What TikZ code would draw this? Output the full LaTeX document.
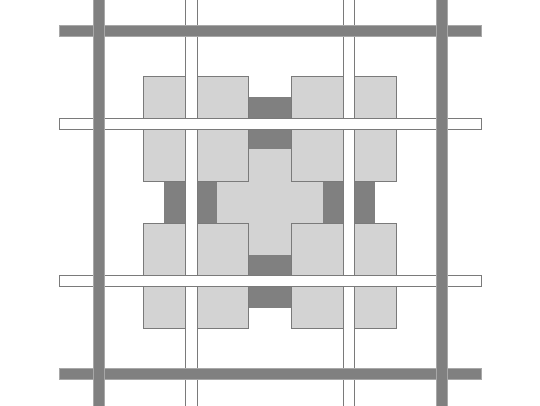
\documentclass[tikz,border=0pt]{standalone}
\usetikzlibrary{backgrounds}
\definecolor{lsq}{HTML}{D3D3D3}
\definecolor{dkg}{HTML}{808080}
\definecolor{edge}{HTML}{7A7A7A}
\definecolor{bedge}{HTML}{A8A8A8}
\tikzset{
  lightsq/.style={fill=lsq, draw=edge, line width=0.6pt},
  crossfill/.style={fill=lsq},
  darkrect/.style={fill=dkg},
  whitebar/.style={fill=white, draw=edge, line width=0.6pt},
  graybar/.style={fill=dkg, draw=bedge, line width=0.4pt}
}
\begin{document}
\begin{tikzpicture}[x=0.75pt,y=-0.75pt]
\useasboundingbox (0,0) rectangle (540,405);
\clip (0,0) rectangle (540,405);
\fill[white] (0,0) rectangle (540,405);
% central cross
\path[crossfill] (248,149) rectangle (291,255);
\path[crossfill] (217,181) rectangle (323,223);
% dark rectangles
\path[darkrect] (248,97) rectangle (291,149);
\path[darkrect] (248,255) rectangle (291,308);
\path[darkrect] (164,181) rectangle (217,223);
\path[darkrect] (323,181) rectangle (375,223);
% light squares: four blocks of 2x2
\foreach \bx/\by in {143/76, 291/76, 143/223, 291/223}{
  \foreach \i in {0,1}{
    \foreach \j in {0,1}{
      \draw[lightsq] ({\bx+52.5*\i},{\by+52.5*\j}) rectangle ({\bx+52.5*(\i+1)},{\by+52.5*(\j+1)});
    }
  }
}
% thin white vertical bars
\draw[whitebar] (185,-5) rectangle (197,410);
\draw[whitebar] (343,-5) rectangle (354,410);
% thin white horizontal bars
\draw[whitebar] (59,118) rectangle (481,129);
\draw[whitebar] (59,275) rectangle (481,286);
% thick gray horizontal bars
\draw[graybar] (59,25) rectangle (481,36);
\draw[graybar] (59,368) rectangle (481,379);
% thick gray vertical bars
\draw[graybar] (93,-5) rectangle (104,410);
\draw[graybar] (436,-5) rectangle (447,410);
\end{tikzpicture}
\end{document}
